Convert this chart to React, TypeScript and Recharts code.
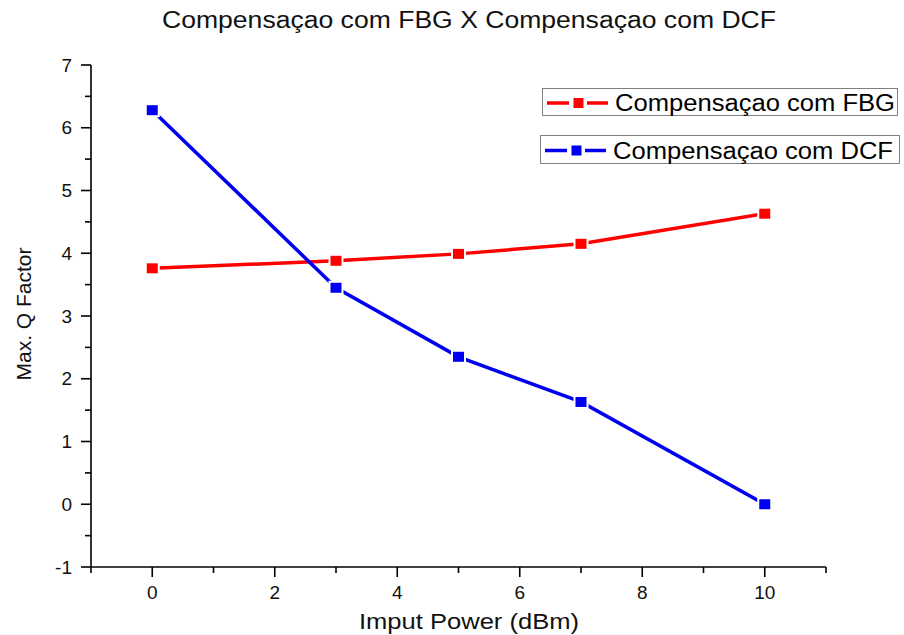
import React from "react";
import { LineChart, Line, XAxis, YAxis, Legend } from "recharts";

const inputPower = [0, 3, 5, 7, 10];
const fbgQ = [3.76, 3.88, 3.99, 4.15, 4.63];
const dcfQ = [6.28, 3.45, 2.35, 1.63, 0.0];
const seriesNames = ["Compensaçao com FBG", "Compensaçao com DCF"];
const seriesColors = ["#ff0000", "#0000f0"];
const xTicks = [-1, 0, 1, 2, 3, 4, 5, 6, 7, 8, 9, 10, 11];
const yTicks = [-1, -0.5, 0, 0.5, 1, 1.5, 2, 2.5, 3, 3.5, 4, 4.5, 5, 5.5, 6, 6.5, 7];

const FONT = "'Liberation Sans', Arial, sans-serif";

const data = inputPower.map((p, i) => ({ power: p, fbg: fbgQ[i], dcf: dcfQ[i] }));

function XTick(props: any) {
  const { x, y, payload } = props;
  const v = payload.value;
  const major = v % 2 === 0;
  return (
    <g>
      <line x1={x} x2={x} y1={y} y2={y + (major ? 10 : 6)} stroke="#000" strokeWidth={1.6} />
      {major && (
        <text x={x} y={y + 32} textAnchor="middle" fontSize={19} fill="#111" fontFamily={FONT}>
          {v}
        </text>
      )}
    </g>
  );
}

function YTick(props: any) {
  const { x, y, payload } = props;
  const v = payload.value;
  const major = Number.isInteger(v);
  return (
    <g>
      <line x1={x} x2={x - (major ? 10 : 6)} y1={y} y2={y} stroke="#000" strokeWidth={1.6} />
      {major && (
        <text x={x - 19} y={y + 6.5} textAnchor="end" fontSize={19} fill="#111" fontFamily={FONT}>
          {v}
        </text>
      )}
    </g>
  );
}

// square marker with a thin white halo, like the gaps round the markers in the original
function SquareDot(props: any) {
  const { cx, cy, stroke } = props;
  if (cx == null || cy == null) return null;
  return (
    <g>
      <rect x={cx - 7.5} y={cy - 7} width={15} height={14} fill="#fff" />
      <rect x={cx - 5.5} y={cy - 5} width={11} height={10} fill={stroke} />
    </g>
  );
}

const legendBoxes = [
  { left: 542, top: 88, width: 356, height: 28 },
  { left: 540, top: 135, width: 360, height: 29 },
];

function LegendContent() {
  return (
    <div style={{ position: "relative", width: 0, height: 0 }}>
      {seriesNames.map((name, i) => {
        const b = legendBoxes[i];
        const c = seriesColors[i];
        const my = b.height / 2;
        return (
          <div
            key={name}
            style={{
              position: "absolute",
              left: b.left,
              top: b.top,
              width: b.width,
              height: b.height,
              border: "1px solid #808080",
              boxSizing: "border-box",
            }}
          >
            <svg width={b.width} height={b.height} style={{ position: "absolute", left: 0, top: 0 }}>
              <line x1={4} x2={26} y1={my} y2={my} stroke={c} strokeWidth={3.5} />
              <line x1={44} x2={65} y1={my} y2={my} stroke={c} strokeWidth={3.5} />
              <rect x={30.5} y={my - 5} width={10} height={10} fill={c} />
              <text
                x={72}
                y={my + 8}
                fontSize={23}
                fontFamily={FONT}
                fill="#000"
                textLength={280}
                lengthAdjust="spacingAndGlyphs"
              >
                {name}
              </text>
            </svg>
          </div>
        );
      })}
    </div>
  );
}

export default function App() {
  return (
    <div style={{ position: "absolute", left: 0, top: 0, width: 904, height: 635, background: "#fff" }}>
      <LineChart width={904} height={635} data={data} margin={{ top: 65, right: 78, bottom: 38, left: 31 }}>
        <XAxis
          dataKey="power"
          type="number"
          domain={[-1, 11]}
          ticks={xTicks}
          interval={0}
          height={30}
          tickSize={0}
          tickMargin={0}
          tickLine={false}
          axisLine={{ stroke: "#000", strokeWidth: 1.6 }}
          tick={<XTick />}
        />
        <YAxis
          type="number"
          domain={[-1, 7]}
          ticks={yTicks}
          interval={0}
          width={60}
          tickSize={0}
          tickMargin={0}
          tickLine={false}
          axisLine={{ stroke: "#000", strokeWidth: 1.6 }}
          tick={<YTick />}
        />
        <Legend
          layout="horizontal"
          align="center"
          verticalAlign="middle"
          content={<LegendContent />}
          wrapperStyle={{ position: "absolute", left: 0, top: 0, width: 0, height: 0 }}
        />
        <Line
          dataKey="fbg"
          name={seriesNames[0]}
          stroke={seriesColors[0]}
          strokeWidth={3.5}
          dot={<SquareDot />}
          activeDot={false}
          isAnimationActive={false}
        />
        <Line
          dataKey="dcf"
          name={seriesNames[1]}
          stroke={seriesColors[1]}
          strokeWidth={3.5}
          dot={<SquareDot />}
          activeDot={false}
          isAnimationActive={false}
        />
      </LineChart>
      <svg width={904} height={635} style={{ position: "absolute", left: 0, top: 0, pointerEvents: "none" }}>
        <text x={162} y={28} fontSize={23} fontFamily={FONT} fill="#111" textLength={614} lengthAdjust="spacingAndGlyphs">
          Compensaçao com FBG X Compensaçao com DCF
        </text>
        <text x={359} y={629} fontSize={22} fontFamily={FONT} fill="#111" textLength={220} lengthAdjust="spacingAndGlyphs">
          Imput Power (dBm)
        </text>
        <text
          x={0}
          y={0}
          fontSize={21}
          fontFamily={FONT}
          fill="#111"
          textAnchor="middle"
          transform="translate(30.5 314) rotate(-90)"
        >
          Max. Q Factor
        </text>
      </svg>
    </div>
  );
}
